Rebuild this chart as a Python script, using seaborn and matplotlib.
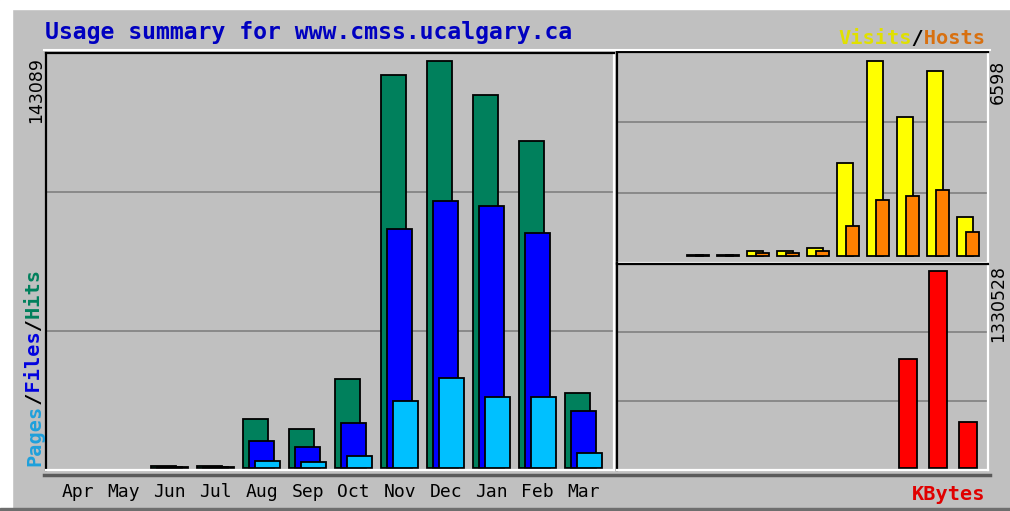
import numpy as np
import pandas as pd
import matplotlib
matplotlib.use("Agg")
import matplotlib.pyplot as plt
from matplotlib.lines import Line2D
from matplotlib.patches import Rectangle
import seaborn as sns

# monthly totals
months = ["Apr", "May", "Jun", "Jul", "Aug", "Sep", "Oct", "Nov", "Dec", "Jan", "Feb", "Mar"]
hits = [0, 0, 650, 650, 17120, 13610, 31190, 138180, 143089, 131150, 115080, 26260]
files = [0, 0, 450, 450, 9490, 7280, 15930, 83930, 93880, 92120, 82730, 20040]
pages = [0, 0, 350, 350, 2460, 2220, 4320, 23560, 31750, 24860, 24860, 5170]
visits = [0, 0, 50, 50, 170, 170, 270, 3160, 6598, 4705, 6270, 1345]
hosts = [0, 0, 35, 35, 110, 110, 170, 1030, 1890, 2040, 2230, 830]
kbytes = [0, 0, 0, 0, 0, 0, 0, 0, 0, 737100, 1330528, 314300]

title = "Usage summary for www.cmss.ucalgary.ca"

BG = "#c0c0c0"
W, H = 1010, 511


def fx(x):
    return x / W


def fy(y):
    return 1 - y / H


def draw_bars(ax, vals, offset, width, color):
    d = pd.DataFrame({"x": np.arange(len(vals)) + offset, "y": vals})
    d = d[d["y"] > 0]
    sns.barplot(data=d, x="x", y="y", native_scale=True, width=width,
                color=color, saturation=1, edgecolor="black", linewidth=1.3,
                errorbar=None, ax=ax)


def style_panel(ax):
    ax.set_facecolor(BG)
    for side in ["top", "left"]:
        ax.spines[side].set_color("black")
        ax.spines[side].set_linewidth(1.6)
    for side in ["bottom", "right"]:
        ax.spines[side].set_color("white")
        ax.spines[side].set_linewidth(1.6)
    for f in [1 / 3, 2 / 3]:
        ax.plot([0, 1], [f, f], transform=ax.transAxes, color="#7a7a7a",
                lw=1.1, zorder=0.5)
    ax.set_xlabel("")
    ax.set_ylabel("")
    ax.set_yticks([])


fig = plt.figure(figsize=(W / 100, H / 100), dpi=100, facecolor=BG)

# outer border of the gif
fig.patches.append(Rectangle((0, fy(9)), 1, 9 / H, transform=fig.transFigure,
                             color="white", zorder=-1))
fig.patches.append(Rectangle((0, 0), fx(12), 1, transform=fig.transFigure,
                             color="white", zorder=-1))
fig.patches.append(Rectangle((0, 0), 1, 3 / H, transform=fig.transFigure,
                             color="#6e6e6e", zorder=-1))

ax1 = fig.add_axes([fx(45.7), fy(470), fx(614 - 45.7), fy(53) - fy(470)])
ax2 = fig.add_axes([fx(617), fy(263), fx(988 - 617), fy(52) - fy(263)])
ax3 = fig.add_axes([fx(617), fy(470), fx(988 - 617), fy(263.5) - fy(470)])

# left panel: hits / files / pages
draw_bars(ax1, hits, -6 / 46, 25 / 46, "#00805c")
draw_bars(ax1, files, 0, 25 / 46, "#0000ff")
draw_bars(ax1, pages, 6 / 46, 25 / 46, "#00c0ff")
m = max(hits)
ax1.set_ylim(-m * 2 / 407, m * 415 / 407)
ax1.set_xlim(-0.696, 11.66)
style_panel(ax1)
ax1.set_xticks(np.arange(len(months)))
ax1.set_xticklabels(months, family="DejaVu Sans Mono", fontsize=13, color="black")
ax1.tick_params(axis="x", length=0, pad=9.5)

# top right: visits / hosts
draw_bars(ax2, visits, -0.1, 15.5 / 30, "#ffff00")
draw_bars(ax2, hosts, 0.14, 13.3 / 30, "#ff8000")
v = max(visits)
ax2.set_ylim(-v * 6.7 / 196.3, v * 205.3 / 196.3)
ax2.set_xlim(-0.7, 11.667)
style_panel(ax2)
ax2.set_xticks([])

# bottom right: kbytes
draw_bars(ax3, kbytes, 0, 18 / 30, "#ff0000")
k = max(kbytes)
ax3.set_ylim(-k * 1.7 / 197.3, k * 204.8 / 197.3)
ax3.set_xlim(-0.7, 11.667)
style_panel(ax3)
ax3.set_xticks([])

# bevel lines around the panels
fig.add_artist(Line2D([fx(44), fx(990)], [fy(50.5), fy(50.5)], color="white", lw=1.5))
fig.add_artist(Line2D([fx(44), fx(990)], [fy(474.5), fy(474.5)], color="#5a5a5a", lw=2.5))

# texts
fig.text(fx(45), fy(39), title, color="#0000c0", fontsize=16.7,
         family="DejaVu Sans Mono", weight="bold", ha="left", va="baseline")

fig.text(fx(36), fy(57), str(max(hits)), rotation=90, ha="center", va="top",
         fontsize=12.5, color="black")
fig.text(fx(998), fy(60), str(max(visits)), rotation=90, ha="center", va="top",
         fontsize=12.5, color="black")
fig.text(fx(998), fy(265), str(max(kbytes)), rotation=90, ha="center", va="top",
         fontsize=12.5, color="black")

lab = dict(family="DejaVu Sans Mono", weight="bold", fontsize=14.6)
rot = dict(rotation=90, rotation_mode="anchor", ha="left", va="center")
for txt, col in [("Pages", "#1ea0dc"), ("     /     /", "black"),
                 ("      Files", "#0000e0"), ("            Hits", "#00805c")]:
    fig.text(fx(35), fy(466), txt, color=col, **rot, **lab)

for txt, col in [("Visits", "#e0e000"), ("      /", "black"), ("       Hosts", "#d87010")]:
    fig.text(fx(838), fy(44), txt, color=col, ha="left", va="baseline", **lab)

fig.text(fx(912), fy(500), "KBytes", color="#e00000", ha="left", va="baseline", **lab)

fig.savefig("out.png", dpi=100, facecolor=fig.get_facecolor())
